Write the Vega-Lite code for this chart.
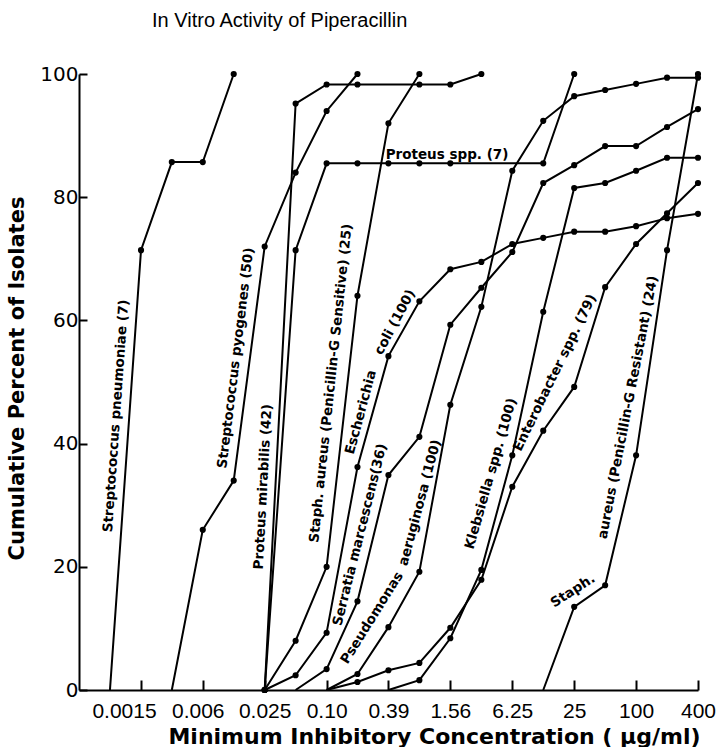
{
  "$schema": "https://vega.github.io/schema/vega-lite/v6.json",
  "width": 619,
  "height": 616,
  "autosize": {"type": "none"},
  "padding": {"left": 79, "top": 74, "right": 24, "bottom": 57},
  "background": "white",
  "title": {
    "text": "In Vitro Activity of Piperacillin",
    "font": "Liberation Sans",
    "fontSize": 20,
    "fontWeight": "normal",
    "color": "black",
    "anchor": "start",
    "frame": "group",
    "dx": 73,
    "offset": 17,
    "baseline": "alphabetic"
  },
  "config": {
    "view": {"stroke": null},
    "axis": {"grid": false, "domainColor": "black", "tickColor": "black", "labelColor": "black", "titleColor": "black", "domainWidth": 2, "tickWidth": 2}
  },
  "datasets": {
    "curves": [
      {"org": "Streptococcus pneumoniae", "mic": 0.000763, "pct": 0},
      {"org": "Streptococcus pneumoniae", "mic": 0.00153, "pct": 71.4},
      {"org": "Streptococcus pneumoniae", "mic": 0.00305, "pct": 85.7},
      {"org": "Streptococcus pneumoniae", "mic": 0.0061, "pct": 85.7},
      {"org": "Streptococcus pneumoniae", "mic": 0.0122, "pct": 100},

      {"org": "Streptococcus pyogenes", "mic": 0.00305, "pct": 0},
      {"org": "Streptococcus pyogenes", "mic": 0.0061, "pct": 26},
      {"org": "Streptococcus pyogenes", "mic": 0.0122, "pct": 34},
      {"org": "Streptococcus pyogenes", "mic": 0.0244, "pct": 72},
      {"org": "Streptococcus pyogenes", "mic": 0.0488, "pct": 84},
      {"org": "Streptococcus pyogenes", "mic": 0.0977, "pct": 94},
      {"org": "Streptococcus pyogenes", "mic": 0.195, "pct": 100},

      {"org": "Proteus mirabilis", "mic": 0.0244, "pct": 0},
      {"org": "Proteus mirabilis", "mic": 0.0488, "pct": 95.2},
      {"org": "Proteus mirabilis", "mic": 0.0977, "pct": 98.3},
      {"org": "Proteus mirabilis", "mic": 0.195, "pct": 98.3},
      {"org": "Proteus mirabilis", "mic": 0.78, "pct": 98.3},
      {"org": "Proteus mirabilis", "mic": 1.56, "pct": 98.3},
      {"org": "Proteus mirabilis", "mic": 3.125, "pct": 100},

      {"org": "Proteus spp.", "mic": 0.0244, "pct": 0},
      {"org": "Proteus spp.", "mic": 0.0488, "pct": 71.4},
      {"org": "Proteus spp.", "mic": 0.0977, "pct": 85.5},
      {"org": "Proteus spp.", "mic": 0.195, "pct": 85.5},
      {"org": "Proteus spp.", "mic": 0.39, "pct": 85.5},
      {"org": "Proteus spp.", "mic": 0.78, "pct": 85.5},
      {"org": "Proteus spp.", "mic": 1.56, "pct": 85.5},
      {"org": "Proteus spp.", "mic": 12.5, "pct": 85.5},
      {"org": "Proteus spp.", "mic": 25, "pct": 100},

      {"org": "Staph. aureus (Penicillin-G Sensitive)", "mic": 0.0244, "pct": 0},
      {"org": "Staph. aureus (Penicillin-G Sensitive)", "mic": 0.0488, "pct": 8},
      {"org": "Staph. aureus (Penicillin-G Sensitive)", "mic": 0.0977, "pct": 20},
      {"org": "Staph. aureus (Penicillin-G Sensitive)", "mic": 0.195, "pct": 64},
      {"org": "Staph. aureus (Penicillin-G Sensitive)", "mic": 0.39, "pct": 92},
      {"org": "Staph. aureus (Penicillin-G Sensitive)", "mic": 0.78, "pct": 100},

      {"org": "Escherichia coli", "mic": 0.0244, "pct": 0},
      {"org": "Escherichia coli", "mic": 0.0488, "pct": 2.4},
      {"org": "Escherichia coli", "mic": 0.0977, "pct": 9.3},
      {"org": "Escherichia coli", "mic": 0.195, "pct": 36.2},
      {"org": "Escherichia coli", "mic": 0.39, "pct": 54.2},
      {"org": "Escherichia coli", "mic": 0.78, "pct": 63.1},
      {"org": "Escherichia coli", "mic": 1.56, "pct": 68.3},
      {"org": "Escherichia coli", "mic": 3.125, "pct": 69.5},
      {"org": "Escherichia coli", "mic": 6.25, "pct": 72.4},
      {"org": "Escherichia coli", "mic": 12.5, "pct": 73.4},
      {"org": "Escherichia coli", "mic": 25, "pct": 74.4},
      {"org": "Escherichia coli", "mic": 50, "pct": 74.4},
      {"org": "Escherichia coli", "mic": 100, "pct": 75.3},
      {"org": "Escherichia coli", "mic": 200, "pct": 76.6},
      {"org": "Escherichia coli", "mic": 400, "pct": 77.3},

      {"org": "Serratia marcescens", "mic": 0.0488, "pct": 0},
      {"org": "Serratia marcescens", "mic": 0.0977, "pct": 3.4},
      {"org": "Serratia marcescens", "mic": 0.195, "pct": 14.4},
      {"org": "Serratia marcescens", "mic": 0.39, "pct": 34.9},
      {"org": "Serratia marcescens", "mic": 0.78, "pct": 41.1},
      {"org": "Serratia marcescens", "mic": 1.56, "pct": 59.3},
      {"org": "Serratia marcescens", "mic": 3.125, "pct": 65.3},
      {"org": "Serratia marcescens", "mic": 6.25, "pct": 71.1},
      {"org": "Serratia marcescens", "mic": 12.5, "pct": 82.3},
      {"org": "Serratia marcescens", "mic": 25, "pct": 85.2},
      {"org": "Serratia marcescens", "mic": 50, "pct": 88.3},
      {"org": "Serratia marcescens", "mic": 100, "pct": 88.3},
      {"org": "Serratia marcescens", "mic": 200, "pct": 91.4},
      {"org": "Serratia marcescens", "mic": 400, "pct": 94.3},

      {"org": "Pseudomonas aeruginosa", "mic": 0.0977, "pct": 0},
      {"org": "Pseudomonas aeruginosa", "mic": 0.195, "pct": 2.6},
      {"org": "Pseudomonas aeruginosa", "mic": 0.39, "pct": 10.2},
      {"org": "Pseudomonas aeruginosa", "mic": 0.78, "pct": 19.2},
      {"org": "Pseudomonas aeruginosa", "mic": 1.56, "pct": 46.3},
      {"org": "Pseudomonas aeruginosa", "mic": 3.125, "pct": 62.2},
      {"org": "Pseudomonas aeruginosa", "mic": 6.25, "pct": 84.3},
      {"org": "Pseudomonas aeruginosa", "mic": 12.5, "pct": 92.4},
      {"org": "Pseudomonas aeruginosa", "mic": 25, "pct": 96.4},
      {"org": "Pseudomonas aeruginosa", "mic": 50, "pct": 97.4},
      {"org": "Pseudomonas aeruginosa", "mic": 100, "pct": 98.4},
      {"org": "Pseudomonas aeruginosa", "mic": 200, "pct": 99.4},
      {"org": "Pseudomonas aeruginosa", "mic": 400, "pct": 99.4},

      {"org": "Klebsiella spp.", "mic": 0.39, "pct": 0},
      {"org": "Klebsiella spp.", "mic": 0.78, "pct": 1.6},
      {"org": "Klebsiella spp.", "mic": 1.56, "pct": 8.4},
      {"org": "Klebsiella spp.", "mic": 3.125, "pct": 19.5},
      {"org": "Klebsiella spp.", "mic": 6.25, "pct": 38.1},
      {"org": "Klebsiella spp.", "mic": 12.5, "pct": 61.4},
      {"org": "Klebsiella spp.", "mic": 25, "pct": 81.5},
      {"org": "Klebsiella spp.", "mic": 50, "pct": 82.3},
      {"org": "Klebsiella spp.", "mic": 100, "pct": 84.3},
      {"org": "Klebsiella spp.", "mic": 200, "pct": 86.4},
      {"org": "Klebsiella spp.", "mic": 400, "pct": 86.4},

      {"org": "Enterobacter spp.", "mic": 0.0977, "pct": 0},
      {"org": "Enterobacter spp.", "mic": 0.195, "pct": 1.3},
      {"org": "Enterobacter spp.", "mic": 0.39, "pct": 3.2},
      {"org": "Enterobacter spp.", "mic": 0.78, "pct": 4.4},
      {"org": "Enterobacter spp.", "mic": 1.56, "pct": 10.1},
      {"org": "Enterobacter spp.", "mic": 3.125, "pct": 17.9},
      {"org": "Enterobacter spp.", "mic": 6.25, "pct": 33},
      {"org": "Enterobacter spp.", "mic": 12.5, "pct": 42.1},
      {"org": "Enterobacter spp.", "mic": 25, "pct": 49.2},
      {"org": "Enterobacter spp.", "mic": 50, "pct": 65.4},
      {"org": "Enterobacter spp.", "mic": 100, "pct": 72.4},
      {"org": "Enterobacter spp.", "mic": 200, "pct": 77.4},
      {"org": "Enterobacter spp.", "mic": 400, "pct": 82.3},

      {"org": "Staph. aureus (Penicillin-G Resistant)", "mic": 12.5, "pct": 0},
      {"org": "Staph. aureus (Penicillin-G Resistant)", "mic": 25, "pct": 13.5},
      {"org": "Staph. aureus (Penicillin-G Resistant)", "mic": 50, "pct": 17},
      {"org": "Staph. aureus (Penicillin-G Resistant)", "mic": 100, "pct": 38.1},
      {"org": "Staph. aureus (Penicillin-G Resistant)", "mic": 200, "pct": 71.4},
      {"org": "Staph. aureus (Penicillin-G Resistant)", "mic": 400, "pct": 100}
    ]
  },
  "encoding": {
    "x": {
      "field": "mic",
      "type": "quantitative",
      "scale": {"type": "log", "base": 2, "domain": [0.00038147, 400], "nice": false},
      "axis": {
        "values": [0.00153, 0.0061, 0.0244, 0.0977, 0.39, 1.56, 6.25, 25, 100, 400],
        "labelExpr": "datum.value < 0.002 ? '0.0015' : datum.value < 0.01 ? '0.006' : datum.value < 0.05 ? '0.025' : datum.value < 0.2 ? '0.10' : datum.value < 1 ? '0.39' : datum.value < 2 ? '1.56' : datum.value < 10 ? '6.25' : datum.value < 50 ? '25' : datum.value < 200 ? '100' : '400'",
        "labelOffset": {"condition": [{"test": "datum.value < 0.002", "value": -17}, {"test": "datum.value < 0.01", "value": -5}], "value": 0},
        "tickSize": -10,
        "labelPadding": 20,
        "labelFont": "Liberation Sans",
        "labelFontSize": 21,
        "labelFlush": false,
        "labelOverlap": false,
        "title": "Minimum Inhibitory Concentration ( μg/ml)",
        "titleFont": "DejaVu Sans",
        "titleFontSize": 22,
        "titleFontWeight": "bold",
        "titleX": 355,
        "titleY": 53,
        "titleBaseline": "alphabetic"
      }
    },
    "y": {
      "field": "pct",
      "type": "quantitative",
      "scale": {"domain": [0, 100], "nice": false},
      "axis": {
        "values": [0, 20, 40, 60, 80, 100],
        "tickSize": -8,
        "labelPadding": 9,
        "labelFont": "DejaVu Sans",
        "labelFontSize": 20,
        "labelFlush": false,
        "title": "Cumulative Percent of Isolates",
        "titleFont": "DejaVu Sans",
        "titleFontSize": 21,
        "titleFontWeight": "bold",
        "titleAngle": -90,
        "titleX": -62,
        "titleY": 304,
        "titleBaseline": "middle",
        "titleAlign": "center"
      }
    }
  },
  "layer": [
    {
      "data": {"name": "curves"},
      "mark": {"type": "line", "color": "black", "strokeWidth": 2},
      "encoding": {"detail": {"field": "org"}}
    },
    {
      "data": {"name": "curves"},
      "transform": [{"filter": "datum.pct > 0 || datum.mic == 0.0244"}],
      "mark": {"type": "circle", "color": "black", "size": 38, "opacity": 1}
    },
    {
      "data": {"values": [{"label": "Streptococcus  pneumoniae (7)", "mic": 0.000876, "pct": 44.5}]},
      "mark": {"type": "text", "font": "DejaVu Sans", "fontWeight": "bold", "fontSize": 13.5, "angle": -86, "align": "center", "baseline": "middle", "color": "black"},
      "encoding": {"text": {"field": "label"}}
    },
    {
      "data": {"values": [{"label": "Streptococcus  pyogenes (50)", "mic": 0.01281, "pct": 53.9}]},
      "mark": {"type": "text", "font": "DejaVu Sans", "fontWeight": "bold", "fontSize": 13.5, "angle": -83, "align": "center", "baseline": "middle", "color": "black"},
      "encoding": {"text": {"field": "label"}}
    },
    {
      "data": {"values": [{"label": "Proteus  mirabilis (42)", "mic": 0.02358, "pct": 33}]},
      "mark": {"type": "text", "font": "DejaVu Sans", "fontWeight": "bold", "fontSize": 13.5, "angle": -87, "align": "center", "baseline": "middle", "color": "black"},
      "encoding": {"text": {"field": "label"}}
    },
    {
      "data": {"values": [{"label": "Staph. aureus (Penicillin-G Sensitive) (25)", "mic": 0.1076, "pct": 49.8}]},
      "mark": {"type": "text", "font": "DejaVu Sans", "fontWeight": "bold", "fontSize": 13.5, "angle": -84, "align": "center", "baseline": "middle", "color": "black"},
      "encoding": {"text": {"field": "label"}}
    },
    {
      "data": {"values": [{"label": "Escherichia", "mic": 0.2108, "pct": 45.1}]},
      "mark": {"type": "text", "font": "DejaVu Sans", "fontWeight": "bold", "fontSize": 13.5, "angle": -75, "align": "center", "baseline": "middle", "color": "black"},
      "encoding": {"text": {"field": "label"}}
    },
    {
      "data": {"values": [{"label": "coli (100)", "mic": 0.452, "pct": 59.7}]},
      "mark": {"type": "text", "font": "DejaVu Sans", "fontWeight": "bold", "fontSize": 13.5, "angle": -62, "align": "center", "baseline": "middle", "color": "black"},
      "encoding": {"text": {"field": "label"}}
    },
    {
      "data": {"values": [{"label": "Serratia  marcescens(36)", "mic": 0.2065, "pct": 25.2}]},
      "mark": {"type": "text", "font": "DejaVu Sans", "fontWeight": "bold", "fontSize": 13.5, "angle": -76, "align": "center", "baseline": "middle", "color": "black"},
      "encoding": {"text": {"field": "label"}}
    },
    {
      "data": {"values": [{"label": "Pseudomonas", "mic": 0.2705, "pct": 11.7}]},
      "mark": {"type": "text", "font": "DejaVu Sans", "fontWeight": "bold", "fontSize": 13.5, "angle": -58, "align": "center", "baseline": "middle", "color": "black"},
      "encoding": {"text": {"field": "label"}}
    },
    {
      "data": {"values": [{"label": "aeruginosa (100)", "mic": 0.792, "pct": 30.4}]},
      "mark": {"type": "text", "font": "DejaVu Sans", "fontWeight": "bold", "fontSize": 13.5, "angle": -75, "align": "center", "baseline": "middle", "color": "black"},
      "encoding": {"text": {"field": "label"}}
    },
    {
      "data": {"values": [{"label": "Klebsiella spp. (100)", "mic": 3.873, "pct": 35.1}]},
      "mark": {"type": "text", "font": "DejaVu Sans", "fontWeight": "bold", "fontSize": 13.5, "angle": -74, "align": "center", "baseline": "middle", "color": "black"},
      "encoding": {"text": {"field": "label"}}
    },
    {
      "data": {"values": [{"label": "Enterobacter spp. (79)", "mic": 16.26, "pct": 51.5}]},
      "mark": {"type": "text", "font": "DejaVu Sans", "fontWeight": "bold", "fontSize": 13.5, "angle": -64, "align": "center", "baseline": "middle", "color": "black"},
      "encoding": {"text": {"field": "label"}}
    },
    {
      "data": {"values": [{"label": "Staph.", "mic": 24.3, "pct": 16.1}]},
      "mark": {"type": "text", "font": "DejaVu Sans", "fontWeight": "bold", "fontSize": 13.5, "angle": -33, "align": "center", "baseline": "middle", "color": "black"},
      "encoding": {"text": {"field": "label"}}
    },
    {
      "data": {"values": [{"label": "aureus (Penicillin-G Resistant) (24)", "mic": 83.5, "pct": 45.9}]},
      "mark": {"type": "text", "font": "DejaVu Sans", "fontWeight": "bold", "fontSize": 13.5, "angle": -79, "align": "center", "baseline": "middle", "color": "black"},
      "encoding": {"text": {"field": "label"}}
    },
    {
      "data": {"values": [{"label": "Proteus spp. (7)", "mic": 1.449, "pct": 86.9}]},
      "mark": {"type": "text", "font": "DejaVu Sans", "fontWeight": "bold", "fontSize": 13.5, "angle": 0, "align": "center", "baseline": "middle", "color": "black"},
      "encoding": {"text": {"field": "label"}}
    }
  ]
}
